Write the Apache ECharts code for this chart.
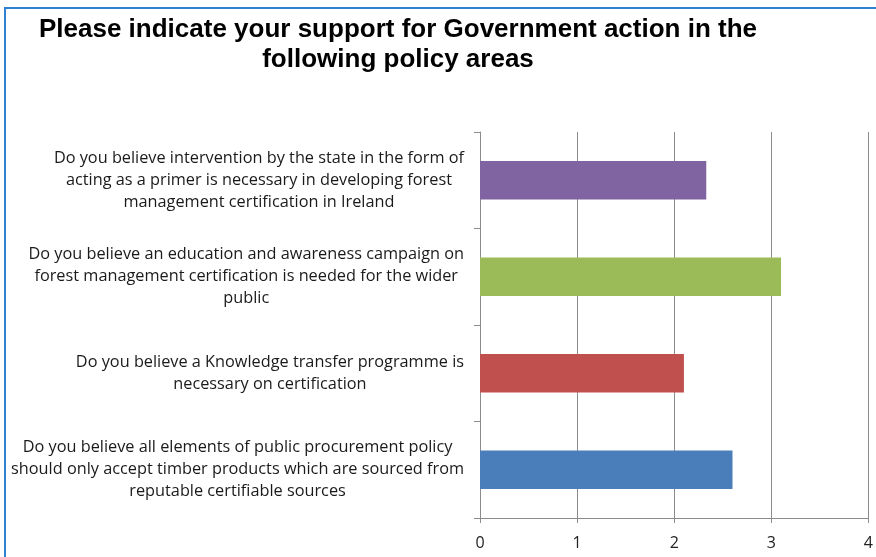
<!DOCTYPE html>
<html>
<head>
<meta charset="utf-8">
<script src="https://cdn.jsdelivr.net/npm/echarts@6/dist/echarts.min.js"></script>
<style>
html,body{margin:0;padding:0;background:#fff;}
#wrap{position:relative;width:876px;height:557px;overflow:hidden;}
#chart{position:absolute;left:0;top:0;width:876px;height:557px;}
#frame{position:absolute;left:4px;top:7px;width:900px;height:600px;border-top:2px solid #2f82d2;border-left:2px solid #2f82d2;pointer-events:none;}
</style>
</head>
<body>
<div id="wrap"><div id="chart"></div><div id="frame"></div></div>
<script>
const titleText = 'Please indicate your support for Government action in the\nfollowing policy areas';
const categories = [
  'Do you believe all elements of public procurement policy\nshould only accept timber products which are sourced from\nreputable certifiable sources',
  'Do you believe a Knowledge transfer programme is\nnecessary on certification',
  'Do you believe an education and awareness campaign on\nforest management certification is needed for the wider\npublic',
  'Do you believe intervention by the state in the form of\nacting as a primer is necessary in developing forest\nmanagement certification in Ireland'
];
const values = [2.6, 2.1, 3.1, 2.33];
const barColors = ['#4a7ebb', '#c0504d', '#9bbb59', '#8064a2'];
const xTicks = [0, 1, 2, 3, 4];

const chart = echarts.init(document.getElementById('chart'));
chart.setOption({
  backgroundColor: '#fff',
  animation: false,
  title: {
    text: titleText,
    left: 393,
    top: 10,
    textAlign: 'center',
    textStyle: {
      fontFamily: 'Liberation Sans',
      fontWeight: 'bold',
      fontSize: 26,
      lineHeight: 30,
      color: '#000'
    }
  },
  grid: { left: 480, right: 4, top: 132, bottom: 39, containLabel: false },
  xAxis: {
    type: 'value',
    min: xTicks[0],
    max: xTicks[xTicks.length - 1],
    interval: 1,
    axisLine: { show: true, lineStyle: { color: '#8c8c8c', width: 1 } },
    axisTick: { show: true, length: 5, lineStyle: { color: '#8c8c8c' } },
    splitLine: { show: true, lineStyle: { color: '#8c8c8c', width: 1 } },
    axisLabel: {
      margin: 17,
      fontFamily: 'Open Sans',
      fontSize: 16,
      color: '#222'
    }
  },
  yAxis: {
    type: 'category',
    data: categories,
    axisLine: { show: true, lineStyle: { color: '#8c8c8c', width: 1 } },
    axisTick: { show: true, length: 6, lineStyle: { color: '#8c8c8c' } },
    splitLine: { show: false },
    axisLabel: {
      margin: 16,
      align: 'right',
      fontFamily: 'Open Sans',
      fontSize: 16.3,
      lineHeight: 22,
      color: '#1a1a1a',
      formatter: function (v) {
        return v.split('\n').map(function (l) { return '{c|' + l + '}'; }).join('\n');
      },
      rich: {
        c: { align: 'center', fontFamily: 'Open Sans', fontSize: 16.3, lineHeight: 22, color: '#1a1a1a' }
      }
    }
  },
  series: [{
    type: 'bar',
    barWidth: '40%',
    data: values.map(function (v, i) {
      return { value: v, itemStyle: { color: barColors[i] } };
    })
  }]
});
</script>
</body>
</html>
